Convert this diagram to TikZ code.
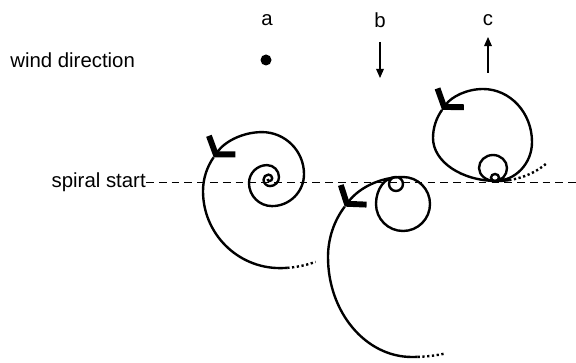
\documentclass[tikz,border=0pt]{standalone}
\usepackage{fontspec}
\setmainfont{Liberation Sans}
\usetikzlibrary{arrows.meta}

\begin{document}
\begin{tikzpicture}[x=0.025cm, y=0.025cm,
		spiral/.style={line width=1.7pt},
		trail/.style={line width=1.7pt, dash pattern=on 1.6pt off 1.8pt},
		guide/.style={line width=0.7pt, dash pattern=on 5.5pt off 3.6pt},
		txt/.style={font=\fontsize{14.5}{17}\selectfont, inner sep=0pt},
		windarrow/.style={line width=0.8pt, -{Triangle[length=6.5pt, width=5.5pt]}},
		chev/.tip={Straight Barb[length=8pt, width=23pt, line width=4.2pt, sharp]}
	]
	\useasboundingbox (0,0) rectangle (576,362);
	% wind row
	\node[txt, anchor=west] (wind) at (10,302) {wind direction};
	\node[txt] (labA) at (267,342) {a};
	\node[txt] (labB) at (380,342) {b};
	\node[txt] (labC) at (488,342) {c};
	\node[circle, fill, inner sep=0pt, minimum size=2.75mm] (dotA) at (266,302) {};
	\coordinate (bFrom) at (380,320);
	\coordinate (bTo) at (380,284);
	\coordinate (cFrom) at (488,289);
	\coordinate (cTo) at (488,325);
	\draw[windarrow] (bFrom) -- (bTo);
	\draw[windarrow] (cFrom) -- (cTo);
	% start line
	\node[txt, anchor=east] (start) at (146,180) {spiral start};
	\coordinate (lineEnd) at (576,180);
	\draw[guide] (start.east) -- (lineEnd);
	% spiral a
	\draw[spiral, -{chev}] (267.5,183)
		arc[start angle=180, end angle=270, radius=2]
		arc[start angle=-90, end angle=0, radius=2.7]
		arc[start angle=0, end angle=90, radius=3.7]
		arc[start angle=90, end angle=180, radius=5]
		arc[start angle=180, end angle=270, radius=6.5]
		arc[start angle=-90, end angle=0, radius=9]
		arc[start angle=0, end angle=90, radius=12]
		arc[start angle=90, end angle=180, radius=18]
		arc[start angle=180, end angle=270, radius=23]
		arc[start angle=-90, end angle=0, radius=32]
		arc[start angle=0, end angle=90, radius=42]
		arc[start angle=90, end angle=145, radius=59] coordinate (aTip);
	\draw[spiral] (aTip) arc[start angle=145, end angle=180, radius=59]
		arc[start angle=180, end angle=270, radius=77]
		arc[start angle=-90, end angle=-86, radius=104] coordinate (aEnd);
	\draw[trail] (aEnd) arc[start angle=-86, end angle=-70, radius=104];
	% spiral b
	\draw[spiral, -{chev}] (396,185)
		arc[start angle=90, end angle=180, radius=7]
		arc[start angle=180, end angle=270, radius=7]
		arc[start angle=-90, end angle=0, radius=7]
		arc[start angle=0, end angle=90, radius=7]
		arc[start angle=90, end angle=180, x radius=20, y radius=27]
		arc[start angle=180, end angle=270, radius=27]
		arc[start angle=-90, end angle=0, radius=27]
		arc[start angle=0, end angle=90, radius=27]
		arc[start angle=90, end angle=141, x radius=75, y radius=80] coordinate (bTip);
	\draw[spiral] (bTip) arc[start angle=141, end angle=180, x radius=75, y radius=80]
		arc[start angle=180, end angle=270, x radius=84, y radius=100]
		arc[start angle=-90, end angle=-88, radius=160] coordinate (bEnd);
	\draw[trail] (bEnd) arc[start angle=-88, end angle=-78, radius=160];
	% spiral c
	\draw[spiral, -{chev}] (495,181)
		arc[start angle=-90, end angle=0, x radius=4, y radius=3.5]
		arc[start angle=0, end angle=90, x radius=4, y radius=3.5]
		arc[start angle=90, end angle=180, x radius=4, y radius=3.5]
		arc[start angle=180, end angle=270, x radius=4, y radius=3.5]
		arc[start angle=-90, end angle=0, x radius=12, y radius=13]
		arc[start angle=0, end angle=90, x radius=14, y radius=13]
		arc[start angle=90, end angle=180, x radius=14, y radius=13]
		arc[start angle=180, end angle=270, x radius=16, y radius=13]
		arc[start angle=-90, end angle=0, x radius=37, y radius=39]
		arc[start angle=0, end angle=90, x radius=49, y radius=53]
		arc[start angle=90, end angle=145, x radius=50, y radius=49] coordinate (cTip);
	\draw[spiral] (cTip) arc[start angle=145, end angle=180, x radius=50, y radius=49]
		arc[start angle=180, end angle=270, x radius=64, y radius=43]
		arc[start angle=-90, end angle=-80, x radius=70, y radius=60] coordinate (cEnd);
	\draw[trail] (cEnd) arc[start angle=-80, end angle=-45, x radius=70, y radius=60];
\end{tikzpicture}
\end{document}
